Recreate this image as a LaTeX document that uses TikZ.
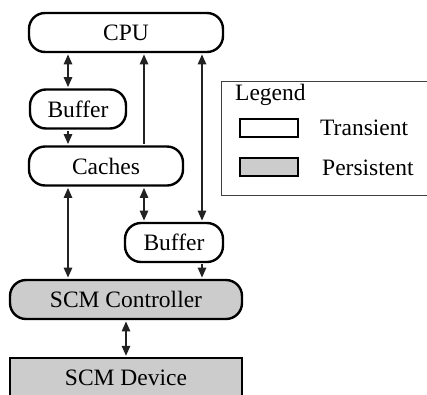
\documentclass[tikz,border=0pt]{standalone}
\usepackage{fontspec}
\setmainfont{Liberation Serif}
\usetikzlibrary{arrows.meta}
\definecolor{persist}{HTML}{CCCCCC}
\definecolor{wire}{HTML}{222222}
\begin{document}
\begin{tikzpicture}[x=1pt,y=-1pt,
  font=\fontsize{23.5}{27}\selectfont,
  pill/.style={draw=black,line width=2.4pt,rounded corners=16pt,inner sep=0pt,
    minimum width=#1,minimum height=39pt},
  flat/.style={draw=black,line width=2.4pt,inner sep=0pt,
    minimum width=#1,minimum height=42pt},
  swatch/.style={draw=black,line width=2.2pt,inner sep=0pt,
    minimum width=58pt,minimum height=18pt},
  link/.style={draw=wire,line width=1.3pt,shorten <=1.2pt,shorten >=1.2pt},
  uni/.style={link,-{Triangle[length=10pt,width=8.5pt]}},
  bi/.style={link,{Triangle[length=10pt,width=8.5pt]}-{Triangle[length=10pt,width=8.5pt]}}]
  \clip (0,0) rectangle (427,394);

  % components
  \node[pill=194pt] (cpu) at (126,32.5) {CPU};
  \node[pill=96pt] (buf1) at (78,109) {Buffer};
  \node[pill=154pt] (caches) at (106,166) {Caches};
  \node[pill=98pt] (buf2) at (174,242.5) {Buffer};
  \node[pill=232pt,fill=persist] (ctrl) at (126,299.5) {SCM Controller};
  \node[flat=232pt,fill=persist,anchor=north] (dev) at (126,357) {};
  \node (devlabel) at (126,378) {SCM Device};

  % columns the connectors run along
  \coordinate (xa) at (68,0);
  \coordinate (xb) at (144,0);
  \coordinate (xc) at (202,0);
  \coordinate (xd) at (126,0);

  % connectors
  \draw[bi]  (buf1.north -| xa) -- (cpu.south -| xa);
  \draw[uni] (buf1.south -| xa) -- (caches.north -| xa);
  \draw[uni] (caches.north -| xb) -- (cpu.south -| xb);
  \draw[bi]  (buf2.north -| xc) -- (cpu.south -| xc);
  \draw[bi]  (caches.south -| xa) -- (ctrl.north -| xa);
  \draw[bi]  (caches.south -| xb) -- (buf2.north -| xb);
  \draw[uni] (buf2.south -| xc) -- (ctrl.north -| xc);
  \draw[bi]  (ctrl.south -| xd) -- (dev.north -| xd);

  % legend
  \node[draw=black!75,line width=1.2pt,inner sep=0pt,anchor=north west,
    minimum width=210pt,minimum height=114pt] (legend) at (221,81) {};
  \node[anchor=west,inner sep=0pt] (legtitle) at (235,95) {Legend};
  \node[swatch,fill=white] (swt) at (269,128) {};
  \node[swatch,fill=persist] (swp) at (269,167) {};
  \node[anchor=west,inner sep=0pt] (lt) at (320,128) {Transient};
  \node[anchor=west,inner sep=0pt] (lp) at (322,167.5) {Persistent};
\end{tikzpicture}
\end{document}
